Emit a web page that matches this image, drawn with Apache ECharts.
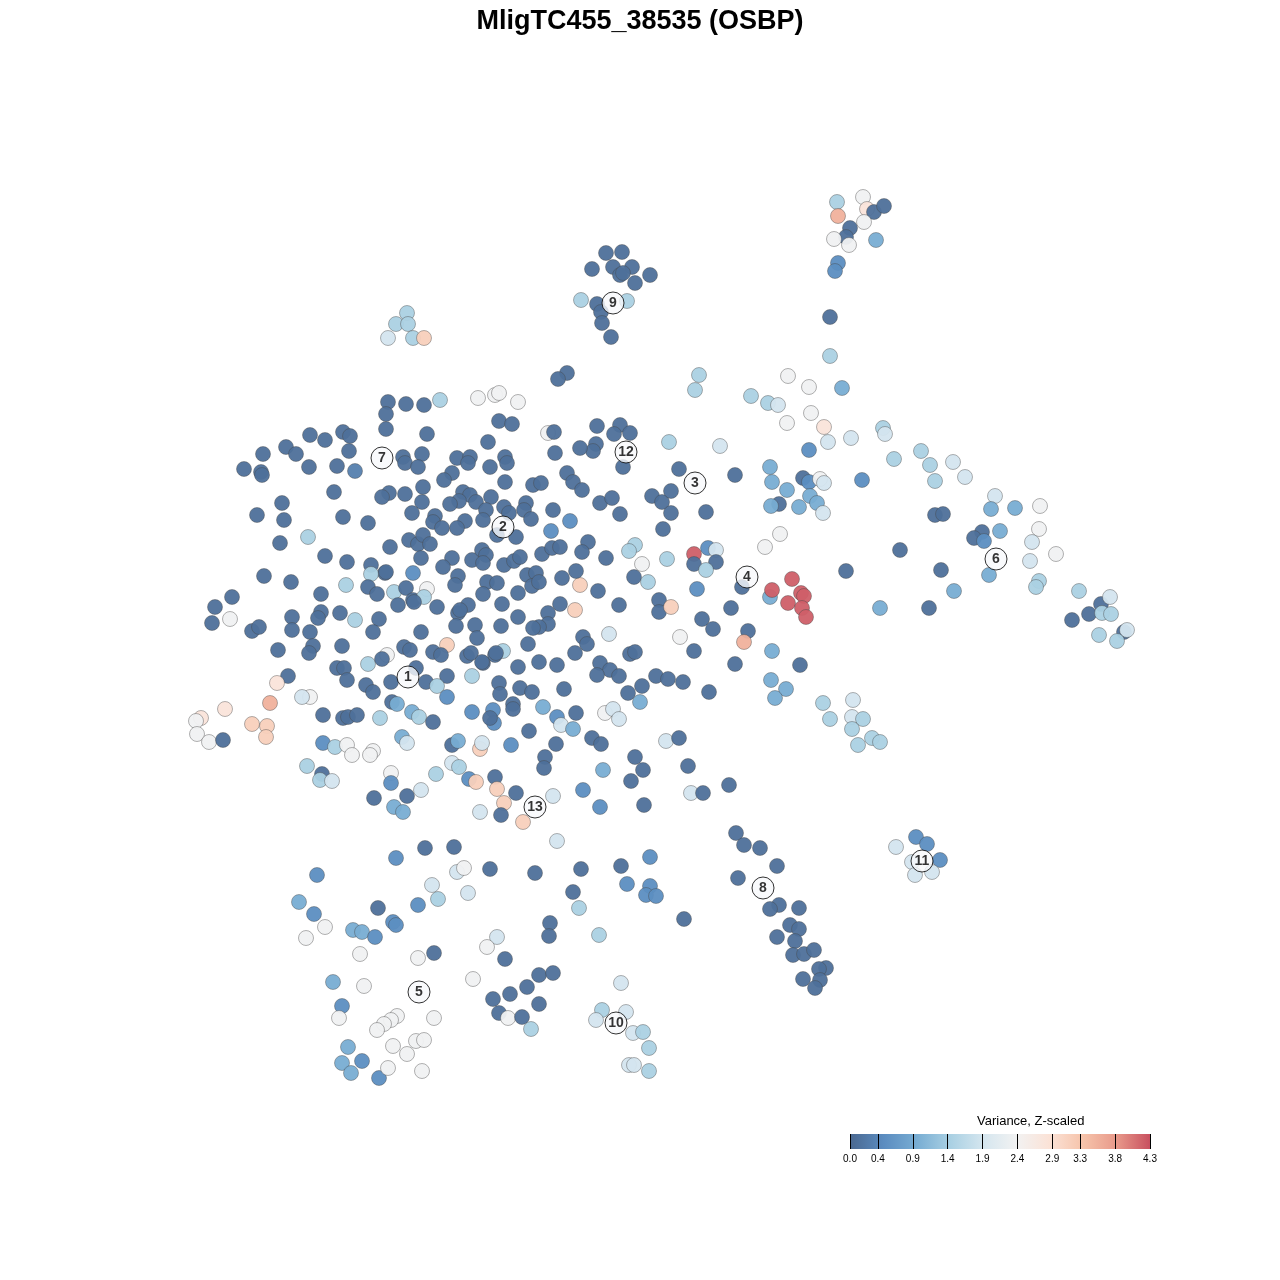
<!DOCTYPE html>
<html>
<head>
<meta charset="utf-8">
<script src="https://cdn.jsdelivr.net/npm/echarts@6/dist/echarts.min.js"></script>
<style>html,body{margin:0;padding:0;background:#fff}#c{width:1280px;height:1280px}</style>
</head>
<body>
<div id="c"></div>
<script>
const topRight = [
[837,202,1.45],[863,197,2.35],[838,216,3.55],[867,209,2.8],[874,212,0.1],[884,206,0.1],[864,222,2.35],[850,228,0.1],[846,237,0.1],[834,239,2.35],[849,245,2.35],[876,240,0.95],[838,263,0.5],[835,271,0.5],[830,317,0.1],[830,356,1.45]
];
const rightArm = [
[699,375,1.45],[695,390,1.45],[788,376,2.35],[809,387,2.35],[842,388,0.95],[751,396,1.45],[768,403,1.45],[778,405,1.9],[811,413,2.35],[787,423,2.35],[824,427,2.8],[828,442,1.9],[851,438,1.9],[883,428,1.45],[885,434,1.9],[720,446,1.9],[809,450,0.5],[770,467,0.95],[894,459,1.45],[921,451,1.45],[930,465,1.45],[953,462,1.9],[965,477,1.9],[935,481,1.45],[735,475,0.1],[803,478,0.1],[809,482,0.5],[820,479,2.35],[824,483,1.9],[772,482,0.95],[787,490,0.95],[862,480,0.5],[779,504,0.1],[771,506,0.95],[799,507,0.95],[810,496,0.95],[817,503,0.95],[823,513,1.9],[706,512,0.1],[995,496,1.9],[991,509,0.95],[1015,508,0.95],[1040,506,2.35],[935,515,0.1],[943,514,0.1],[982,532,0.1],[974,538,0.1],[984,541,0.5],[1000,531,0.95],[1039,529,2.35],[1032,542,1.9],[1030,561,1.9],[1056,554,2.35],[900,550,0.1],[780,534,2.35],[765,547,2.35],[989,575,0.95],[941,570,0.1],[846,571,0.1],[1039,581,1.45],[1036,587,1.45],[954,591,0.95],[1079,591,1.45],[1101,604,0.1],[1089,614,0.1],[1110,597,1.9],[1102,613,1.45],[1111,614,1.45],[1072,620,0.1],[1124,632,0.1],[1127,630,1.9],[1099,635,1.45],[1117,641,1.45],[880,608,0.95],[929,608,0.1]
];
const cluster4 = [
[708,548,0.5],[694,554,4.2],[716,550,1.9],[716,562,0.1],[694,564,0.1],[706,570,1.45],[697,589,0.5],[742,587,0.1],[770,597,0.95],[792,579,4.2],[772,590,4.2],[801,593,4.2],[804,596,4.2],[788,603,4.2],[802,608,4.2],[806,617,4.2],[731,608,0.1],[702,619,0.1],[713,629,0.1],[748,631,0.1],[744,642,3.55],[772,651,0.95],[694,651,0.1],[680,637,2.35],[679,469,0.1],[669,442,1.45]
];
const cluster9 = [
[606,253,0.1],[622,252,0.1],[592,269,0.1],[613,267,0.1],[632,267,0.1],[620,275,0.1],[623,273,0.1],[650,275,0.1],[635,283,0.1],[581,300,1.45],[597,304,0.1],[601,312,0.1],[627,301,1.45],[602,323,0.1],[611,337,0.1],[567,373,0.1],[558,379,0.1],
[407,313,1.45],[396,324,1.45],[408,324,1.45],[388,338,1.9],[413,338,1.45],[424,338,3.15]
];
const upperMain = [
[388,402,0.1],[406,404,0.1],[424,405,0.1],[440,400,1.45],[478,398,2.35],[495,395,2.35],[499,393,2.35],[518,402,2.35],[386,414,0.1],[386,429,0.1],[427,434,0.1],[499,421,0.1],[512,424,0.1],[548,433,2.35],[554,432,0.1],[597,426,0.1],[620,425,0.1],[630,433,0.1],[614,434,0.1],[596,444,0.1],[593,451,0.1],[580,448,0.1],[555,453,0.1],[623,467,0.1],[488,442,0.1],[505,457,0.1],[507,463,0.1],[490,467,0.1],[457,458,0.1],[470,457,0.1],[468,463,0.1],[403,457,0.1],[405,463,0.1],[422,454,0.1],[418,467,0.1],[567,473,0.1],[573,482,0.1],
[310,435,0.1],[325,440,0.1],[343,432,0.1],[350,436,0.1],[349,451,0.1],[286,447,0.1],[296,454,0.1],[263,454,0.1],[244,469,0.1],[261,472,0.1],[262,475,0.1],[309,467,0.1],[337,466,0.1],[355,471,0.3]
];
const coreMain = [
[452,473,0.1],[444,480,0.1],[423,487,0.1],[422,502,0.1],[405,494,0.1],[389,493,0.1],[382,497,0.1],[463,492,0.1],[470,495,0.1],[459,501,0.1],[450,504,0.1],[476,502,0.1],[491,497,0.1],[486,510,0.1],[505,482,0.1],[533,485,0.1],[541,483,0.1],[504,507,0.1],[509,513,0.1],[526,503,0.1],[524,510,0.1],[531,519,0.1],[553,510,0.1],[570,521,0.5],[551,531,0.5],[516,537,0.1],[497,535,0.1],[412,513,0.1],[435,516,0.1],[433,522,0.1],[442,528,0.1],[465,521,0.1],[457,528,0.1],[483,520,0.1],
[390,547,0.1],[409,540,0.1],[418,544,0.1],[423,535,0.1],[430,544,0.1],[421,558,0.1],[452,558,0.1],[443,567,0.1],[472,560,0.1],[482,550,0.1],[486,555,0.1],[483,563,0.1],[504,565,0.1],[514,561,0.1],[520,557,0.1],[542,554,0.1],[552,548,0.1],[560,547,0.1],[413,573,0.5],[385,573,0.1],[458,576,0.1],[455,585,0.1],[487,582,0.1],[497,583,0.1],[527,575,0.1],[536,573,0.1],[532,586,0.1],[539,582,0.1],[518,593,0.1],[562,578,0.1],[580,585,3.15],[575,610,3.15],[560,604,0.1],[548,613,0.1],[394,592,1.45],[406,588,0.1],[413,600,0.1],[427,589,2.35],[424,597,1.45],[398,605,0.1],[437,607,0.1],[458,613,0.1],[468,605,0.1],[483,594,0.1],[502,604,0.1],[518,617,0.1]
];
const midEast = [
[582,490,0.1],[600,503,0.1],[612,498,0.1],[620,514,0.1],[652,496,0.1],[662,502,0.1],[671,491,0.1],[671,513,0.1],[663,529,0.1],[588,542,0.1],[582,552,0.1],[606,558,0.1],[576,571,0.1],[635,545,1.45],[629,551,1.45],[642,564,2.35],[667,559,1.45],[634,577,0.1],[648,582,1.45],[598,591,0.1],[548,624,0.1],[539,627,0.1],[501,626,0.1],[619,605,0.1],[659,600,0.1],[659,612,0.1],[671,607,3.15],[609,634,1.9],[583,637,0.1],[587,644,0.1],[575,653,0.1],[557,665,0.1],[539,662,0.1],[528,644,0.1],[518,667,0.1],[503,651,1.45],[495,655,0.1],[483,663,0.1],[600,663,0.1],[610,670,0.1],[597,675,0.1],[619,676,0.1],[630,654,0.1],[635,652,0.1],[735,664,0.1],[656,676,0.1],[668,679,0.1],[683,682,0.1]
];
const westMain = [
[334,492,0.1],[282,503,0.1],[257,515,0.1],[284,520,0.1],[343,517,0.1],[368,523,0.1],
[308,537,1.45],[280,543,0.1],[325,556,0.1],[347,562,0.1],[371,565,0.1],[371,574,1.45],[386,572,0.1],[264,576,0.1],[291,582,0.1],[346,585,1.45],[368,587,0.1],[377,594,0.1],[232,597,0.1],[215,607,0.1],[212,623,0.1],[230,619,2.35],[252,631,0.1],[259,627,0.1],[292,617,0.1],[292,630,0.1],[321,594,0.1],[321,612,0.1],[318,618,0.1],[340,613,0.1],[355,620,1.45],[379,619,0.1],[373,632,0.1],[310,632,0.1],[313,646,0.1],[309,653,0.1],[278,650,0.1],[342,646,0.1],[421,632,0.1],[456,626,0.1],[475,625,0.1],[477,638,0.1],[447,645,3.15],[433,652,0.1],[441,655,0.1],[467,656,0.1],[471,653,0.1],[404,647,0.1],[410,650,0.1],[387,655,2.35],[368,664,1.45],[382,659,0.1],[337,668,0.1],[344,668,0.1],[347,680,0.1],[288,676,0.1],[277,683,2.8],[416,668,0.1],[447,676,0.1],[472,676,1.45],[482,662,0.1],[496,653,0.1],[533,628,0.1],[460,610,0.1],[414,602,0.1]
];
const lowerWest = [
[366,685,0.1],[373,692,0.1],[391,682,0.1],[426,682,0.1],[437,686,1.45],[447,697,0.5],[499,683,0.1],[500,694,0.1],[520,688,0.1],[532,692,0.1],[513,704,0.1],[513,709,0.1],[493,710,0.5],[494,723,0.5],[490,718,0.1],[472,712,0.5],[392,702,0.1],[397,704,0.95],[412,712,0.95],[419,717,1.45],[433,722,0.1],[380,718,1.45],[323,715,0.1],[343,718,0.1],[348,717,0.1],[357,715,0.1],[310,697,2.35],[302,697,1.9],[402,737,0.95],[407,743,1.9],[452,745,0.1],[458,741,0.95],[480,749,3.15],[482,743,1.9],[511,745,0.5],[529,731,0.1],[543,707,0.95],[323,743,0.5],[335,747,1.45],[347,745,2.35],[352,755,2.35],[373,751,2.35],[370,755,2.35],[452,763,1.9],[459,767,1.45],
[270,703,3.55],[225,709,2.8],[201,718,2.8],[196,721,2.35],[197,734,2.35],[209,742,2.35],[223,740,0.1],[252,724,3.15],[267,726,3.15],[266,737,3.15],[307,766,1.45],[322,774,0.1],[320,780,1.45],[332,781,1.9],[391,773,2.35],[391,783,0.5],[374,798,0.1],[407,796,0.1],[421,790,1.9],[394,807,0.95],[403,812,0.95],[436,774,1.45],[469,779,0.5],[476,782,3.15],[480,812,1.9]
];
const lowerMid = [
[709,692,0.1],[800,665,0.1],[771,680,0.95],[786,689,0.95],[775,698,0.95],[823,703,1.45],[830,719,1.45],[853,700,1.9],[852,717,1.9],[863,719,1.45],[852,729,1.45],[858,745,1.45],[872,738,1.45],[880,742,1.45],
[564,689,0.1],[628,693,0.1],[642,686,0.1],[640,702,0.95],[557,717,0.5],[561,725,1.9],[573,729,0.95],[576,713,0.1],[605,713,2.35],[613,709,1.9],[619,719,1.9],[592,738,0.1],[601,744,0.1],[556,744,0.1],[666,741,1.9],[679,738,0.1],[545,757,0.1],[544,768,0.1],[635,757,0.1],[643,770,0.1],[631,781,0.1],[688,766,0.1],[603,770,0.95],[495,777,0.1],[497,789,3.15],[504,803,3.15],[516,793,0.1],[501,815,0.1],[523,822,3.15],[553,796,1.9],[583,790,0.5],[600,807,0.5],[644,805,0.1],[691,793,1.9],[703,793,0.1],[729,785,0.1]
];
const cluster8and11 = [
[736,833,0.1],[744,845,0.1],[760,848,0.1],[777,866,0.1],[738,878,0.1],[779,905,0.1],[770,909,0.1],[799,908,0.1],[790,925,0.1],[799,929,0.1],[777,937,0.1],[795,941,0.1],[793,955,0.1],[804,954,0.1],[814,950,0.1],[826,968,0.1],[819,969,0.1],[803,979,0.1],[820,980,0.1],[815,988,0.1],
[896,847,1.9],[916,837,0.5],[927,844,0.5],[940,860,0.5],[912,862,1.9],[915,875,1.9],[932,872,1.9]
];
const bottom = [
[557,841,1.9],[425,848,0.1],[454,847,0.1],[396,858,0.5],[317,875,0.5],[490,869,0.1],[535,873,0.1],[581,869,0.1],[621,866,0.1],[650,857,0.5],[627,884,0.5],[650,886,0.5],[646,895,0.5],[656,896,0.5],[457,872,1.9],[464,868,2.35],[432,885,1.9],[438,899,1.45],[468,893,1.9],[418,905,0.5],[573,892,0.1],[579,908,1.45],[299,902,0.95],[314,914,0.5],[378,908,0.1],[325,927,2.35],[306,938,2.35],[353,930,0.95],[362,932,0.95],[375,937,0.5],[393,922,0.5],[396,925,0.5],[360,954,2.35],[418,958,2.35],[434,953,0.1],[550,923,0.1],[549,936,0.1],[684,919,0.1],[599,935,1.45],[497,937,1.9],[487,947,2.35],[505,959,0.1],[333,982,0.95],[364,986,2.35],[473,979,2.35],[539,975,0.1],[553,973,0.1],[527,987,0.1],[510,994,0.1],[493,999,0.1],[539,1004,0.1],[499,1013,0.1],[508,1018,2.35],[522,1017,0.1],[531,1029,1.45],[621,983,1.9],[602,1010,1.45],[626,1012,1.9],[596,1020,1.9],[633,1033,1.9],[643,1032,1.45],[649,1048,1.45],[629,1065,1.9],[634,1065,1.9],[649,1071,1.45],
[342,1006,0.5],[339,1018,2.35],[397,1016,2.35],[391,1020,2.35],[384,1024,2.35],[377,1030,2.35],[434,1018,2.35],[348,1047,0.95],[342,1063,0.95],[362,1061,0.5],[351,1073,0.95],[379,1078,0.5],[393,1046,2.35],[407,1054,2.35],[416,1041,2.35],[424,1040,2.35],[388,1068,2.35],[422,1071,2.35]
];
const clusterLabels = [
[408,677,'1'],[503,527,'2'],[695,483,'3'],[747,577,'4'],[419,992,'5'],[996,559,'6'],[382,458,'7'],[763,888,'8'],[613,303,'9'],[616,1023,'10'],[922,861,'11'],[626,452,'12'],[535,807,'13']
];
const legendTicks = [0.0,0.4,0.9,1.4,1.9,2.4,2.9,3.3,3.8,4.3];
const palette = ['#4a6890','#5b8cc0','#78add3','#a9d0e3','#d5e6ef','#f2f2f2','#fbe2d6','#f6c3aa','#e8998a','#c8505f'];

const allPoints = [].concat(topRight, rightArm, cluster4, cluster9, upperMain, coreMain, midEast, westMain, lowerWest, lowerMid, cluster8and11, bottom);

const chart = echarts.init(document.getElementById('c'), null, {renderer:'canvas'});
const FONT = '"Liberation Sans", Arial, sans-serif';
chart.setOption({
  backgroundColor:'#fff',
  animation:false,
  title:{text:'MligTC455_38535 (OSBP)', left:'center', top:3,
    textStyle:{fontFamily:FONT, fontSize:27, fontWeight:'bold', color:'#000'}},
  grid:[
    {left:0,right:0,top:0,bottom:0},
    {left:850,width:300,top:1134,height:15}
  ],
  xAxis:[
    {gridIndex:0,type:'value',min:0,max:1280,show:false},
    {gridIndex:1,type:'value',min:0,max:4.3,z:10,
      axisLine:{show:false},splitLine:{show:false},
      axisTick:{show:true,inside:true,length:15,customValues:legendTicks,lineStyle:{color:'#000',width:1}},
      axisLabel:{show:true,customValues:legendTicks,formatter:v=>v.toFixed(1),fontFamily:FONT,fontSize:10,color:'#000',margin:5,showMinLabel:true,showMaxLabel:true}
    }
  ],
  yAxis:[
    {gridIndex:0,type:'value',min:0,max:1280,inverse:true,show:false},
    {gridIndex:1,type:'category',data:['v'],show:false}
  ],
  graphic:[{type:'text',left:977,top:1115,style:{text:'Variance, Z-scaled',fontFamily:FONT,fontSize:13,fill:'#000'}}],
  visualMap:{show:false,type:'continuous',min:0,max:4.3,seriesIndex:0,dimension:2,inRange:{color:palette}},
  series:[
    {type:'scatter',xAxisIndex:0,yAxisIndex:0,data:allPoints,symbolSize:15,
      itemStyle:{opacity:0.95,borderColor:'rgba(70,70,70,0.55)',borderWidth:0.8}},
    {type:'scatter',xAxisIndex:0,yAxisIndex:0,data:clusterLabels,symbolSize:22,z:5,
      itemStyle:{color:'#f7f9fb',borderColor:'#000',borderWidth:1},
      label:{show:true,position:'inside',formatter:p=>p.data[2],fontFamily:FONT,fontWeight:'bold',fontSize:14,color:'#000'}},
    {type:'bar',xAxisIndex:1,yAxisIndex:1,data:[4.3],barWidth:'100%',silent:true,z:0,zlevel:0,
      itemStyle:{color:new echarts.graphic.LinearGradient(0,0,1,0,palette.map((c,i)=>({offset:i/(palette.length-1),color:c})))}}
  ]
});
</script>
</body>
</html>
